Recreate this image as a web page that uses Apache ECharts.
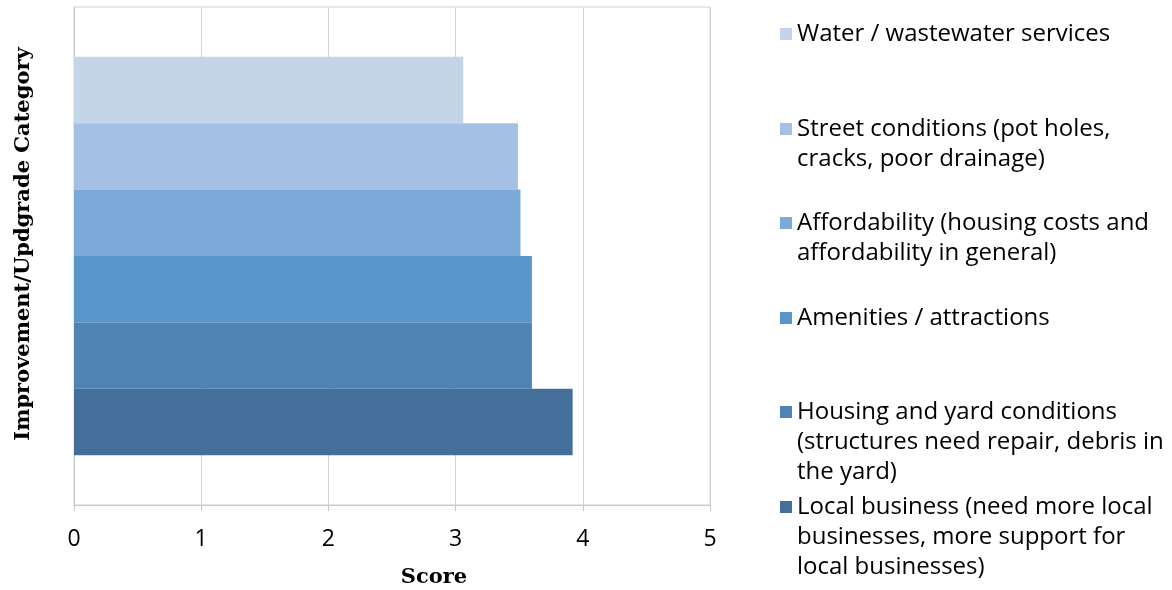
<!DOCTYPE html>
<html>
<head>
<meta charset="utf-8">
<script src="https://cdn.jsdelivr.net/npm/echarts@6/dist/echarts.min.js"></script>
<style>
  html, body { margin: 0; padding: 0; background: #fff; }
  #chart { width: 1172px; height: 590px; }
</style>
</head>
<body>
<div id="chart"></div>
<script>
const categories = [''];
const seriesNames = [
  'Water / wastewater services',
  'Street conditions (pot holes, cracks, poor drainage)',
  'Affordability (housing costs and affordability in general)',
  'Amenities / attractions',
  'Housing and yard conditions (structures need repair, debris in the yard)',
  'Local business (need more local businesses, more support for local businesses)'
];
const legendLines = [
  ['Water / wastewater services'],
  ['Street conditions (pot holes,', 'cracks, poor drainage)'],
  ['Affordability (housing costs and', 'affordability in general)'],
  ['Amenities / attractions'],
  ['Housing and yard conditions', '(structures need repair, debris in', 'the yard)'],
  ['Local business (need more local', 'businesses, more support for', 'local businesses)']
];
const scores = [3.06, 3.49, 3.51, 3.60, 3.60, 3.92];
const colors = ['#c4d5ea', '#a4c0e4', '#7ba9d8', '#5795cb', '#4e83b4', '#436f9a'];
const xTicks = [0, 1, 2, 3, 4, 5];

const chart = echarts.init(document.getElementById('chart'));

// legend markers sit on the first line of each entry:
// blank lines on top keep the first real line in the middle of the block
const markerCenters = [34, 129, 223, 318, 412, 507];
const lineH = 30;
const legends = seriesNames.map((name, i) => {
  const n = legendLines[i].length;
  const pad = new Array(n - 1).fill(' ');
  return {
    orient: 'vertical',
    left: 780,
    top: markerCenters[i] - (2 * n - 1) * lineH / 2,
    padding: 0,
    icon: 'rect',
    itemWidth: 12,
    itemHeight: 12,
    selectedMode: false,
    data: [name],
    formatter: () => pad.concat(legendLines[i]).join('\n'),
    textStyle: {
      fontFamily: 'Open Sans',
      fontSize: 24,
      lineHeight: lineH,
      color: '#000'
    }
  };
});

chart.setOption({
  animation: false,
  color: colors,
  grid: {
    left: 74,
    right: 462,
    top: 7,
    bottom: 85,
    outerBoundsMode: 'none',
    containLabel: false,
    show: true,
    borderColor: '#d0d0d0',
    borderWidth: 1
  },
  legend: legends,
  xAxis: {
    type: 'value',
    min: xTicks[0],
    max: xTicks[xTicks.length - 1],
    interval: 1,
    name: 'Score',
    nameLocation: 'middle',
    nameGap: 62,
    nameTextStyle: {
      fontFamily: 'DejaVu Serif', fontWeight: 'bold', fontSize: 21, color: '#000',
      padding: [0, 0, 0, 84]
    },
    axisLine: { show: true, lineStyle: { color: '#c8c8c8' } },
    axisTick: { show: true, length: 6, lineStyle: { color: '#c8c8c8' } },
    axisLabel: { fontFamily: 'Open Sans', fontSize: 23, color: '#000', margin: 23 },
    splitLine: { show: true, lineStyle: { color: '#d4d4d4' } }
  },
  yAxis: {
    type: 'category',
    data: categories,
    name: 'Improvement/Updgrade Category',
    nameLocation: 'middle',
    nameGap: 40,
    nameTextStyle: {
      fontFamily: 'DejaVu Serif', fontWeight: 'bold', fontSize: 21, color: '#000',
      padding: [0, 0, 0, 24]
    },
    axisLine: { show: true, lineStyle: { color: '#c8c8c8' } },
    axisTick: { show: false },
    axisLabel: { show: false },
    splitLine: { show: false }
  },
  series: seriesNames.map((name, i) => ({
    type: 'bar',
    name: name,
    data: [scores[i]],
    barGap: '0%',
    barCategoryGap: '20%',
    itemStyle: { color: colors[i] }
  }))
});

window.addEventListener('resize', function () {
  chart.resize();
});
</script>
</body>
</html>
